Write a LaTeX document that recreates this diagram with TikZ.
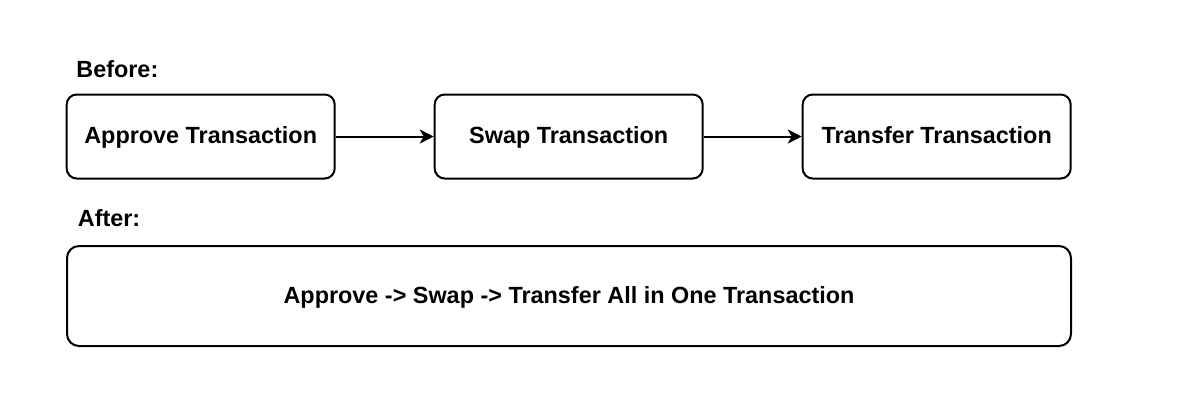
\documentclass[tikz,border=0pt]{standalone}
\usepackage{fontspec}
\setmainfont{Liberation Sans}
\usetikzlibrary{positioning,arrows.meta}
\tikzset{
  txbox/.style = 	{shape=rectangle, rounded corners=5pt,
				draw, line width=1pt, align=center,
				minimum width=134pt, minimum height=42pt,
				text height=9.3pt, text depth=2pt,
				font=\bfseries\fontsize{11.7}{14}\selectfont},
  allbox/.style = 	{txbox, rounded corners=6pt,
				minimum width=502pt, minimum height=50pt},
  heading/.style = 	{anchor=base west, inner sep=0pt,
				font=\bfseries\fontsize{11.7}{14}\selectfont},
  flow/.style = 	{draw, line width=1pt, -{Stealth[length=7pt, width=7pt, inset=2pt]}},
}

\begin{document}
\begin{tikzpicture}
	[
		x               = 0.5pt,
		y               = -0.5pt,
		node distance   = 49pt
	]
	\useasboundingbox (0,0) rectangle (1178,404);
	% before
	\node [heading] (before) at (76,77) {Before:};
	\node [txbox] (approve) at (200.7,136.5) {Approve Transaction};
	\node [txbox, right=of approve] (swap) {Swap Transaction};
	\node [txbox, right=of swap] (transfer) {Transfer Transaction};
	\draw [flow] (approve) -- (swap);
	\draw [flow] (swap) -- (transfer);
	% after
	\node [heading] (after) at (77.5,226.5) {After:};
	\node [allbox] (allinone) at (569,296) {Approve -> Swap -> Transfer All in One Transaction};
\end{tikzpicture}
\end{document}
